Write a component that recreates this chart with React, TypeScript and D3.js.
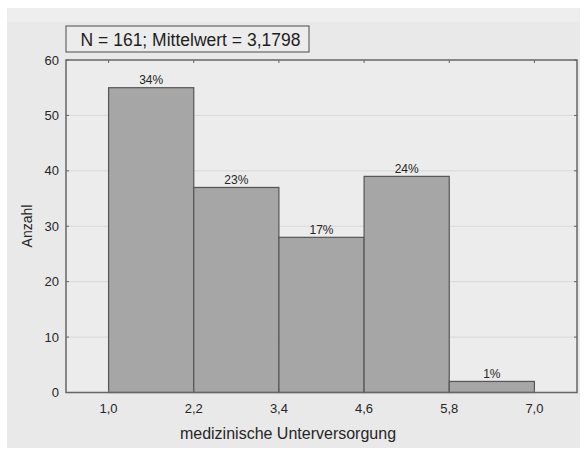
import React from "react";
import * as d3 from "d3";

const binEdges = [1.0, 2.2, 3.4, 4.6, 5.8, 7.0];
const counts = [55, 37, 28, 39, 2];
const percentLabels = ["34%", "23%", "17%", "24%", "1%"];
const xTickLabels = ["1,0", "2,2", "3,4", "4,6", "5,8", "7,0"];
const yTicks = [0, 10, 20, 30, 40, 50, 60];
const titleText = "N = 161; Mittelwert = 3,1798";
const xTitle = "medizinische Unterversorgung";
const yTitle = "Anzahl";

export default function App() {
  const W = 584, H = 450;
  const left = 66, right = 577, top = 60, bottom = 392.5;
  const x = d3.scaleLinear().domain([0.4, 7.6]).range([left, right]);
  const y = d3.scaleLinear().domain([0, 60]).range([bottom, top]);
  const font = "Arial, 'Liberation Sans', sans-serif";
  const txt = "#262626";
  return (
    <svg width={W} height={H} style={{ position: "absolute", left: 0, top: 0 }}>
      <rect x={0} y={0} width={W} height={H} fill="#ffffff" />
      <rect x={7} y={8} width={573} height={440} fill="#e9e9e9" />
      <rect x={7} y={8} width={573} height={14} fill="#eeeeee" />
      <rect x={left} y={top} width={right - left} height={bottom - top} fill="#ececec" />
      {yTicks.slice(1, -1).map((t) => (
        <line key={"g" + t} x1={left} x2={right} y1={y(t)} y2={y(t)} stroke="#d8d8d8" strokeWidth={1} />
      ))}
      {counts.map((c, i) => (
        <rect
          key={"b" + i}
          x={x(binEdges[i])}
          y={y(c)}
          width={x(binEdges[i + 1]) - x(binEdges[i])}
          height={y(0) - y(c)}
          fill="#a6a6a6"
          stroke="#555555"
          strokeWidth={1.2}
        />
      ))}
      {counts.map((c, i) => (
        <text
          key={"p" + i}
          x={(x(binEdges[i]) + x(binEdges[i + 1])) / 2}
          y={y(c) - 3.5}
          textAnchor="middle"
          fontFamily={font}
          fontSize={12}
          fill={txt}
        >
          {percentLabels[i]}
        </text>
      ))}
      <rect x={left} y={top} width={right - left} height={bottom - top} fill="none" stroke="#666" strokeWidth={1.5} />
      {yTicks.map((t) => (
        <g key={"y" + t}>
          <line x1={left} x2={left + 3} y1={y(t)} y2={y(t)} stroke="#666" />
          <line x1={right - 3} x2={right} y1={y(t)} y2={y(t)} stroke="#666" />
          <text x={59} y={y(t) + 4.5} textAnchor="end" fontFamily={font} fontSize={13} fill={txt}>
            {t}
          </text>
        </g>
      ))}
      {binEdges.map((v, i) => (
        <g key={"x" + i}>
          <line x1={x(v)} x2={x(v)} y1={top} y2={top + 3} stroke="#666" />
          <line x1={x(v)} x2={x(v)} y1={bottom - 3} y2={bottom} stroke="#666" />
          <text x={x(v)} y={413} textAnchor="middle" fontFamily={font} fontSize={13} fill={txt}>
            {xTickLabels[i]}
          </text>
        </g>
      ))}
      <text x={288} y={439} textAnchor="middle" fontFamily={font} fontSize={16} fill={txt}>
        {xTitle}
      </text>
      <text
        transform={`translate(31.5, 226) rotate(-90)`}
        textAnchor="middle"
        fontFamily={font}
        fontSize={14}
        fill={txt}
      >
        {yTitle}
      </text>
      <rect x={66} y={26} width={243} height={26} fill="#ececec" stroke="#666" strokeWidth={1.2} />
      <text x={190.5} y={45.5} textAnchor="middle" fontFamily={font} fontSize={17.5} fill="#1e1e1e">
        {titleText}
      </text>
    </svg>
  );
}
